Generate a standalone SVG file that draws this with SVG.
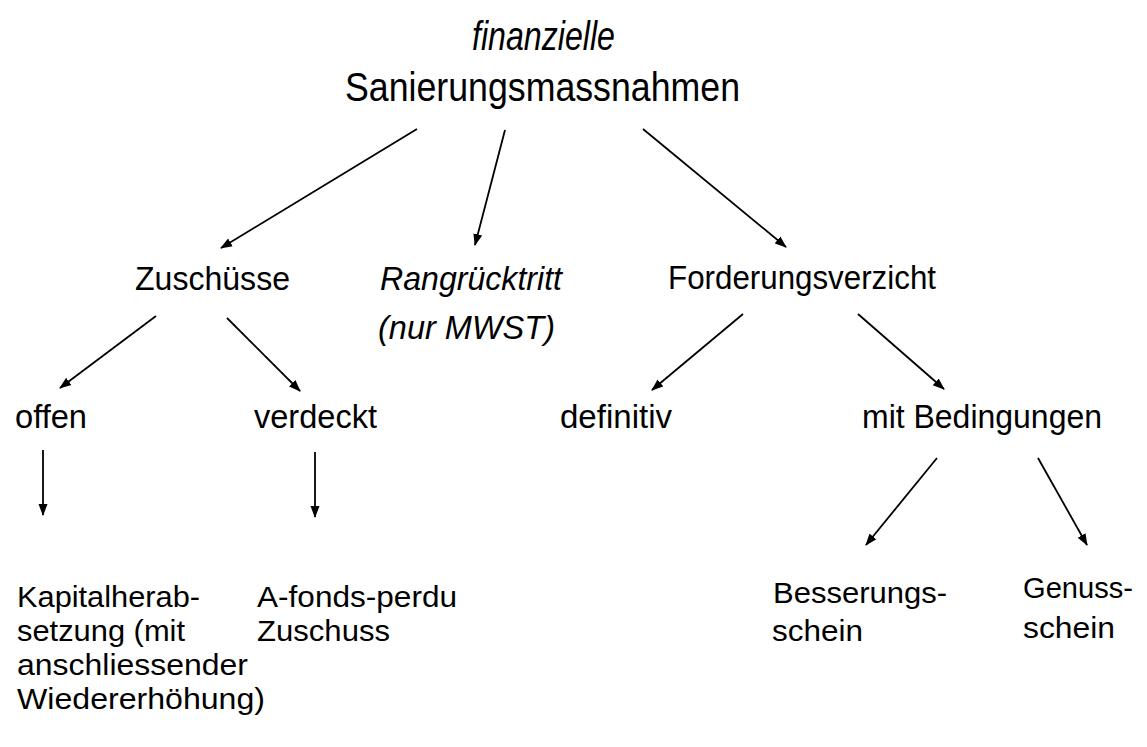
<svg xmlns="http://www.w3.org/2000/svg" width="1147" height="747" viewBox="0 0 1147 747">
<defs>
<marker id="ah" viewBox="0 0 12 10" refX="11" refY="5" markerWidth="12" markerHeight="10" markerUnits="userSpaceOnUse" orient="auto">
<path d="M0,0.5 L12,5 L0,9.5 Z" fill="#000"/>
</marker>
</defs>
<style>
text{font-family:"Liberation Sans",Arial,sans-serif;font-size:34px;fill:#000}
.t{font-size:40px}
.s{font-size:30px}
.it{font-style:italic}
.c{stroke:#000;stroke-width:1.8;fill:none;marker-end:url(#ah)}
</style>
<rect width="1147" height="747" fill="#fff"/>
<g id="root"><text class="t it" x="472" y="50" textLength="143" lengthAdjust="spacingAndGlyphs">finanzielle</text><text class="t" x="345" y="101" textLength="395" lengthAdjust="spacingAndGlyphs">Sanierungsmassnahmen</text></g>
<g id="zuschuesse"><text x="135" y="290" textLength="155" lengthAdjust="spacingAndGlyphs">Zuschüsse</text></g>
<g id="rangruecktritt"><text class="it" x="380" y="290" textLength="182" lengthAdjust="spacingAndGlyphs">Rangrücktritt</text><text class="it" x="378" y="339" textLength="177" lengthAdjust="spacingAndGlyphs">(nur MWST)</text></g>
<g id="forderungsverzicht"><text x="668" y="289" textLength="268" lengthAdjust="spacingAndGlyphs">Forderungsverzicht</text></g>
<g id="offen"><text x="15" y="428" textLength="72" lengthAdjust="spacingAndGlyphs">offen</text></g>
<g id="verdeckt"><text x="254" y="428" textLength="123" lengthAdjust="spacingAndGlyphs">verdeckt</text></g>
<g id="definitiv"><text x="560" y="428" textLength="112" lengthAdjust="spacingAndGlyphs">definitiv</text></g>
<g id="bedingungen"><text x="862" y="428" textLength="240" lengthAdjust="spacingAndGlyphs">mit Bedingungen</text></g>
<g id="kapital"><text class="s" x="17" y="607" textLength="183" lengthAdjust="spacingAndGlyphs">Kapitalherab-</text><text class="s" x="17" y="641" textLength="168" lengthAdjust="spacingAndGlyphs">setzung (mit</text><text class="s" x="17" y="675" textLength="231" lengthAdjust="spacingAndGlyphs">anschliessender</text><text class="s" x="17" y="709" textLength="248" lengthAdjust="spacingAndGlyphs">Wiedererhöhung)</text></g>
<g id="afonds"><text class="s" x="257" y="607" textLength="200" lengthAdjust="spacingAndGlyphs">A-fonds-perdu</text><text class="s" x="257" y="641" textLength="133" lengthAdjust="spacingAndGlyphs">Zuschuss</text></g>
<g id="besserung"><text class="s" x="773" y="603" textLength="174" lengthAdjust="spacingAndGlyphs">Besserungs-</text><text class="s" x="772" y="641" textLength="91" lengthAdjust="spacingAndGlyphs">schein</text></g>
<g id="genuss"><text class="s" x="1023" y="598" textLength="110" lengthAdjust="spacingAndGlyphs">Genuss-</text><text class="s" x="1023" y="638" textLength="92" lengthAdjust="spacingAndGlyphs">schein</text></g>
<g id="connectors">
<line class="c" x1="417" y1="129" x2="221" y2="248"/>
<line class="c" x1="505" y1="130" x2="475" y2="245"/>
<line class="c" x1="643" y1="129" x2="786" y2="247"/>
<line class="c" x1="156" y1="316" x2="60" y2="388"/>
<line class="c" x1="227" y1="318" x2="300" y2="391"/>
<line class="c" x1="743" y1="314" x2="652" y2="390"/>
<line class="c" x1="858" y1="314" x2="944" y2="389"/>
<line class="c" x1="43" y1="450" x2="43" y2="515"/>
<line class="c" x1="315" y1="452" x2="315" y2="517"/>
<line class="c" x1="937" y1="458" x2="866" y2="545"/>
<line class="c" x1="1038" y1="458" x2="1087" y2="545"/>
</g>
</svg>
